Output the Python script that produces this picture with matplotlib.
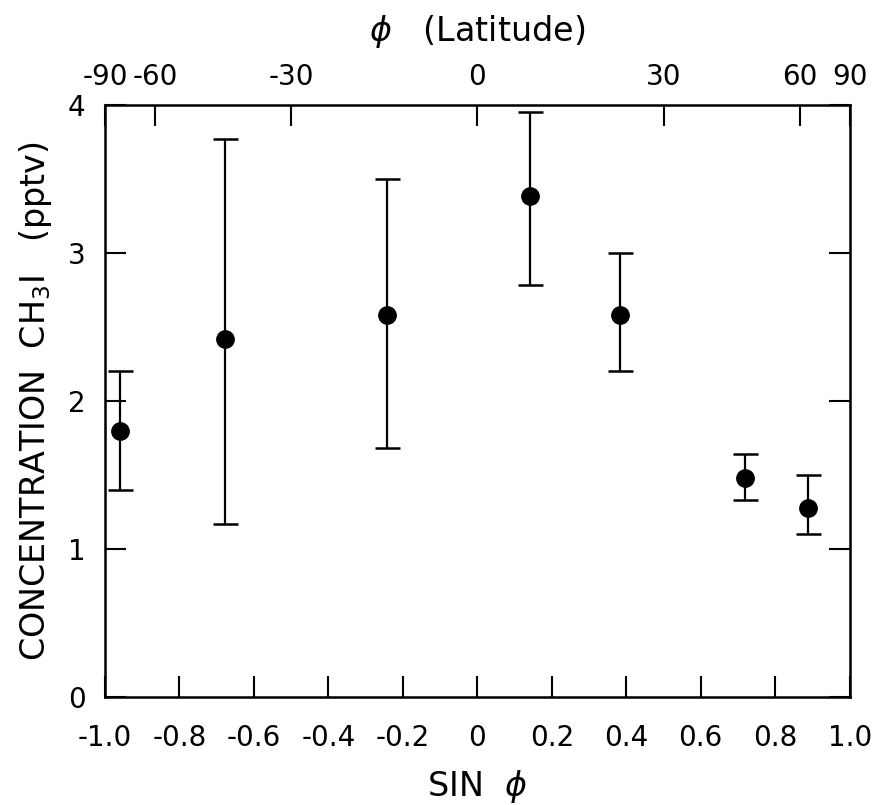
import numpy as np
import matplotlib.pyplot as plt

# sin(latitude) of each band and CH3I concentration (pptv)
sin_phi = [-0.96, -0.678, -0.243, 0.141, 0.382, 0.718, 0.887]
conc = [1.80, 2.42, 2.58, 3.38, 2.58, 1.48, 1.28]
conc_lo = [1.40, 1.17, 1.68, 2.78, 2.20, 1.33, 1.10]
conc_hi = [2.20, 3.77, 3.50, 3.95, 3.00, 1.64, 1.50]

xticks = [-1.0, -0.8, -0.6, -0.4, -0.2, 0, 0.2, 0.4, 0.6, 0.8, 1.0]
xtick_labels = ['-1.0', '-0.8', '-0.6', '-0.4', '-0.2', '0', '0.2', '0.4', '0.6', '0.8', '1.0']
yticks = [0, 1, 2, 3, 4]
lat_ticks = [-90, -60, -30, 0, 30, 60, 90]

plt.rcParams['font.family'] = 'DejaVu Sans'

fig = plt.figure(figsize=(8.86, 8.05), dpi=100)
ax = fig.add_axes([0.1185, 0.134, 0.8405, 0.736])

conc = np.array(conc)
yerr = [conc - np.array(conc_lo), np.array(conc_hi) - conc]
ax.errorbar(sin_phi, conc, yerr=yerr, fmt='o', color='black', ms=12.5,
            elinewidth=1.6, capsize=9, capthick=1.8)

ax.set_xlim(-1.0, 1.0)
ax.set_ylim(0, 4)
ax.set_xticks(xticks)
ax.set_xticklabels(xtick_labels)
ax.set_yticks(yticks)
ax.tick_params(axis='both', direction='in', length=15, width=1.5,
               labelsize=20, right=True)
ax.tick_params(axis='x', pad=19)
ax.tick_params(axis='y', pad=14)
for s in ax.spines.values():
    s.set_linewidth(1.8)

ax.set_xlabel(r'SIN  $\phi$', fontsize=24, labelpad=12)
ax.set_ylabel(r'CONCENTRATION  CH$_3$I   (pptv)', fontsize=24, labelpad=10)

top = ax.twiny()
top.set_xlim(-1.0, 1.0)
top.set_xticks(np.sin(np.radians(lat_ticks)))
top.set_xticklabels([str(t) for t in lat_ticks])
top.tick_params(axis='x', direction='in', length=15, width=1.5,
                labelsize=20, pad=10)
top.set_xlabel(r'$\phi$   (Latitude)', fontsize=24, labelpad=16)

fig.savefig('out.png', dpi=100)
